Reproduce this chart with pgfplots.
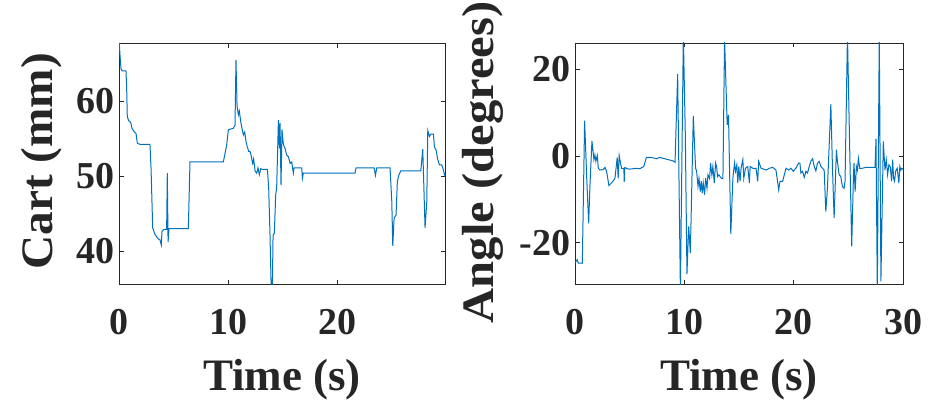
\documentclass[border=0pt]{standalone}
\usepackage{fontspec}
\setmainfont{Liberation Serif}
\usepackage{graphicx}
\usepackage{pgfplots}
\pgfplotsset{compat=1.18}
\definecolor{mblue}{RGB}{0,114,189}
\definecolor{axgray}{RGB}{38,38,38}
\pgfplotsset{mystyle/.style={
  scale only axis, anchor=south west,
  axis line style={axgray, line width=0.8pt},
  every tick/.style={axgray, line width=0.8pt},
  major tick length=4.5pt, tick align=inside,
  ticklabel style={font=\fontsize{38}{40}\selectfont\bfseries, text=axgray},
  label style={font=\fontsize{45}{50}\selectfont\bfseries, text=axgray},
  xticklabel style={anchor=base, yshift=-50.3pt},
  yticklabel style={xshift=-1pt},
  xlabel style={at={(axis description cs:0.5,-0.44)}, anchor=base},
}}
\begin{document}
\begin{tikzpicture}
\path[use as bounding box] (0pt,0pt) rectangle (935pt,402pt);
\begin{axis}[mystyle, at={(119pt,118pt)}, width=326pt, height=241pt,
  xmin=0, xmax=29.9, ymin=35.59, ymax=67.79,
  xtick={0,10,20}, xticklabels={0,10,20},
  ytick={40,50,60}, yticklabels={40,50,60},
  xlabel={Time (s)}, ylabel={\scalebox{1.05}[1]{Cart (mm)}},
  ylabel style={at={(axis description cs:-0.2055,0.51)}, anchor=base}]
\addplot[mblue, line width=1pt, no markers] coordinates {
(0,67.79) (0.03,67.7) (0.09,66.2) (0.18,64.4) (0.28,64.05) (0.64,64.05) (0.70,62) (0.76,57.95) (0.89,57.4) (1.07,57.2) (1.19,56.4) (1.41,55.9) (1.56,55.7) (1.68,54.4) (1.93,54.25) (2.84,54.25) (2.94,51.0) (3.09,43.1) (3.30,42.2) (3.61,41.6) (3.76,41.5) (3.88,40.8) (3.94,42.6) (4.13,42.9) (4.37,42.9) (4.43,50.4) (4.50,41.2) (4.59,43.0) (6.36,43.0) (6.51,51.9) (9.57,51.9) (9.72,53.0) (9.88,54.2) (10.03,56.2) (10.49,56.4) (10.64,56.8) (10.73,65.5) (10.83,59.3) (10.95,58.2) (11.04,58.7) (11.16,57.3) (11.28,56.4) (11.41,55.5) (11.53,55.9) (11.65,54.6) (11.77,53.9) (11.90,53.3) (12.02,53.3) (12.14,52.6) (12.26,51.7) (12.35,52.3) (12.48,50.7) (12.63,50.4) (12.75,51.1) (12.87,50.2) (13.00,51.0) (13.12,50.9) (13.61,50.9) (13.73,48.4) (13.85,42.1) (13.95,35.59) (14.07,35.59) (14.13,42.1) (14.25,42.4) (14.37,47.5) (14.46,48.4) (14.62,57.5) (14.71,53.7) (14.77,57.1) (14.86,48.8) (14.95,56.2) (15.08,54.2) (15.23,53.7) (15.38,52.8) (15.54,52.6) (15.69,51.7) (15.84,51.9) (15.99,50.4) (16.06,51.1) (16.76,51.1) (16.82,49.7) (16.91,50.4) (21.65,50.4) (21.74,51.1) (23.40,51.1) (23.52,50.1) (23.64,51.1) (24.86,51.1) (25.02,46.6) (25.11,40.7) (25.23,44.4) (25.41,44.8) (25.53,49.3) (25.66,50.1) (25.84,50.7) (27.68,50.7) (27.86,53.6) (28.07,43.1) (28.23,46.6) (28.32,56.1) (28.47,55.3) (28.59,55.6) (28.84,55.6) (28.93,53.9) (29.08,53.5) (29.24,52.2) (29.39,51.5) (29.60,51.5) (29.76,50.8) (29.85,50.2) (29.9,50.4)
};
\end{axis}
\begin{axis}[mystyle, at={(575pt,118pt)}, width=328pt, height=241pt,
  xmin=0, xmax=30, ymin=-29.5, ymax=26.1,
  xtick={0,10,20,30}, xticklabels={0,10,20,30},
  ytick={-20,0,20}, yticklabels={-20,0,20},
  xlabel={Time (s)}, ylabel={\scalebox{1.08}[1]{Angle (degrees)}},
  ylabel style={at={(axis description cs:-0.247,0.505)}, anchor=base}]
\addplot[mblue, line width=1pt, no markers] coordinates {
(0,-24.5) (0.09,-24.3) (0.21,-23.9) (0.30,-24.7) (0.67,-24.7) (0.88,8.2) (1.06,-4.3) (1.25,-15.5) (1.37,-6.6) (1.55,3.5) (1.73,-0.8) (1.82,0.3) (1.91,-1.2) (2.04,0.15) (2.13,-2.8) (2.28,-3.2) (2.58,-3.1) (2.74,-2.6) (2.89,-3.5) (3.10,-6.8) (3.34,-6.2) (3.65,-5.2) (3.86,-0.3) (3.95,-5.1) (4.04,0.15) (4.16,-1.6) (4.26,-2.8) (4.47,-2.8) (4.50,-6.0) (4.56,-2.6) (4.77,-2.9) (5.02,-3.0) (5.62,-2.8) (5.93,-2.9) (6.29,-2.4) (6.53,-0.3) (6.99,-0.3) (7.45,-0.6) (7.75,-0.3) (8.21,-0.6) (8.51,-0.8) (8.97,-1.1) (9.15,-1.4) (9.39,18.9) (9.64,-31) (9.91,28) (10.09,4.9) (10.24,-27.2) (10.40,-16.2) (10.55,-22.4) (10.82,9.3) (11.03,-2.8) (11.12,-3.4) (11.25,-7.0) (11.34,-5.1) (11.46,-8.2) (11.55,-5.8) (11.64,-8.5) (11.73,-6.2) (11.85,-8.9) (11.95,-5.1) (12.07,-7.4) (12.16,-4.3) (12.31,-5.2) (12.40,-1.6) (12.52,-4.3) (12.61,-2.4) (12.74,-6.2) (12.86,-1.6) (12.95,-2.4) (13.04,-4.7) (13.16,-4.3) (13.37,-5.1) (13.53,-5.2) (13.68,27) (13.92,7.2) (14.04,9.5) (14.25,-18.0) (14.44,-5.1) (14.59,-1.6) (14.68,-3.5) (14.80,-2.0) (14.89,-6.2) (14.98,-2.4) (15.10,-5.8) (15.19,-2.8) (15.35,-0.8) (15.44,-5.1) (15.59,-2.8) (15.80,-2.4) (15.95,-6.2) (16.02,-2.4) (16.26,-2.8) (16.56,-2.8) (16.71,-5.8) (16.80,-1.2) (17.02,-2.8) (17.47,-3.2) (17.77,-2.8) (18.08,-2.6) (18.38,-3.2) (18.63,-7.8) (18.75,-5.8) (18.99,-5.8) (19.30,-2.8) (19.54,-3.2) (19.75,-2.8) (19.96,-3.5) (20.20,-2.8) (20.45,-1.6) (20.57,-1.6) (20.66,-3.9) (20.81,-3.5) (20.97,-4.9) (21.12,-3.5) (21.27,-3.9) (21.42,-2.4) (21.57,-1.2) (21.73,-0.6) (21.88,-2.4) (22.03,-3.4) (22.18,-1.6) (22.33,-1.2) (22.49,-2.4) (22.79,-3.2) (22.94,-12.8) (23.09,-7.4) (23.40,12.0) (23.55,-2.8) (23.70,-14.3) (23.91,1.5) (24.00,-1.2) (24.16,-4.3) (24.31,-4.7) (24.46,-7.0) (24.61,-7.4) (24.70,-5.8) (24.92,28) (25.13,1.1) (25.31,-20.8) (25.47,-4.3) (25.52,-1.6) (25.62,-8.2) (25.74,-2.4) (25.83,-3.2) (25.92,-0.5) (26.04,-2.8) (26.28,-2.8) (26.59,-2.6) (27.44,-2.6) (27.53,4.0) (27.65,-31) (27.83,28) (27.98,-28.9) (28.20,3.4) (28.35,-3.2) (28.47,-0.8) (28.59,-4.3) (28.71,-2.0) (28.83,-2.4) (28.96,-5.8) (29.05,-0.8) (29.14,-5.1) (29.23,-5.8) (29.32,-3.5) (29.47,-2.8) (29.62,-6.2) (29.71,-2.4) (29.81,-3.2) (29.87,-2.8) (30,-3.0)
};
\end{axis}
\end{tikzpicture}
\end{document}
